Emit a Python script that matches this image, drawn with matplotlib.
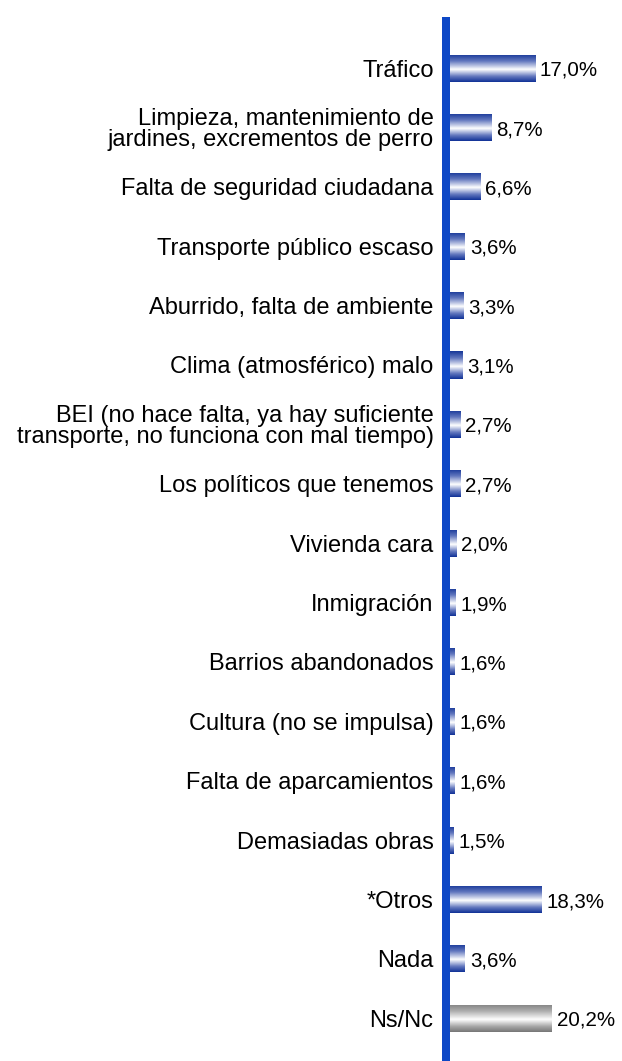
import numpy as np
import matplotlib
matplotlib.use('Agg')
import matplotlib.pyplot as plt
from matplotlib.colors import LinearSegmentedColormap

# Chart data
categories = [
    'Tráfico',
    'Limpieza, mantenimiento de\njardines, excrementos de perro',
    'Falta de seguridad ciudadana',
    'Transporte público escaso',
    'Aburrido, falta de ambiente',
    'Clima (atmosférico) malo',
    'BEI (no hace falta, ya hay suficiente\ntransporte, no funciona con mal tiempo)',
    'Los políticos que tenemos',
    'Vivienda cara',
    'Inmigración',
    'Barrios abandonados',
    'Cultura (no se impulsa)',
    'Falta de aparcamientos',
    'Demasiadas obras',
    '*Otros',
    'Nada',
    'Ns/Nc',
]
values = [17.0, 8.7, 6.6, 3.6, 3.3, 3.1, 2.7, 2.7, 2.0, 1.9, 1.6, 1.6, 1.6, 1.5,
          18.3, 3.6, 20.2]
grey_bars = ['Ns/Nc']

plt.rcParams['font.family'] = ['Liberation Sans', 'DejaVu Sans']

W, H = 622, 1061
fig = plt.figure(figsize=(W / 100, H / 100), dpi=100)
ax = fig.add_axes([446 / W, 0, (W - 446) / W, (H - 17) / H])

px_per_unit = 5.24

# Cylinder style gradients (top -> middle white -> bottom)
blue_cmap = LinearSegmentedColormap.from_list(
    'blue_cyl', [(0.0, '#173799'), (0.25, '#6479bf'), (0.55, '#ffffff'),
                 (0.8, '#6479bf'), (1.0, '#123297')])
grey_cmap = LinearSegmentedColormap.from_list(
    'grey_cyl', [(0.0, '#828282'), (0.25, '#afafaf'), (0.55, '#ffffff'),
                 (0.8, '#a8a8a8'), (1.0, '#777777')])
grad = np.linspace(0, 1, 64).reshape(-1, 1)

y = np.arange(len(categories))
bars = ax.barh(y, values, height=0.455, color='none', edgecolor='none')
for bar, cat, val in zip(bars, categories, values):
    cmap = grey_cmap if cat in grey_bars else blue_cmap
    x0, y0 = bar.get_x(), bar.get_y()
    w, h = bar.get_width(), bar.get_height()
    im = ax.imshow(grad, cmap=cmap, aspect='auto', interpolation='bilinear',
                   extent=(x0, x0 + w, y0 + h, y0), zorder=2)
    im.set_clip_path(bar)
    ax.annotate(f'{val:.1f}'.replace('.', ',') + '%',
                xy=(x0 + w, bar.get_y() + h / 2), xytext=(3.5, -1.5),
                textcoords='offset points', ha='left', va='center',
                fontsize=14.8, color='black')

ax.set_xlim(0, (W - 446) / px_per_unit)
ax.set_ylim(16.72, -0.86)

ax.set_yticks(y)
ax.set_yticklabels(categories, fontsize=17, linespacing=0.92)
ax.tick_params(axis='y', length=0, pad=9)
ax.set_xticks([])

for side in ['top', 'right', 'bottom']:
    ax.spines[side].set_visible(False)
ax.spines['left'].set_color('#0d47c6')
ax.spines['left'].set_linewidth(8 * 72 / 100)
ax.spines['left'].set_zorder(5)
ax.spines['left'].set_capstyle('butt')

fig.savefig('out.png', dpi=100)
